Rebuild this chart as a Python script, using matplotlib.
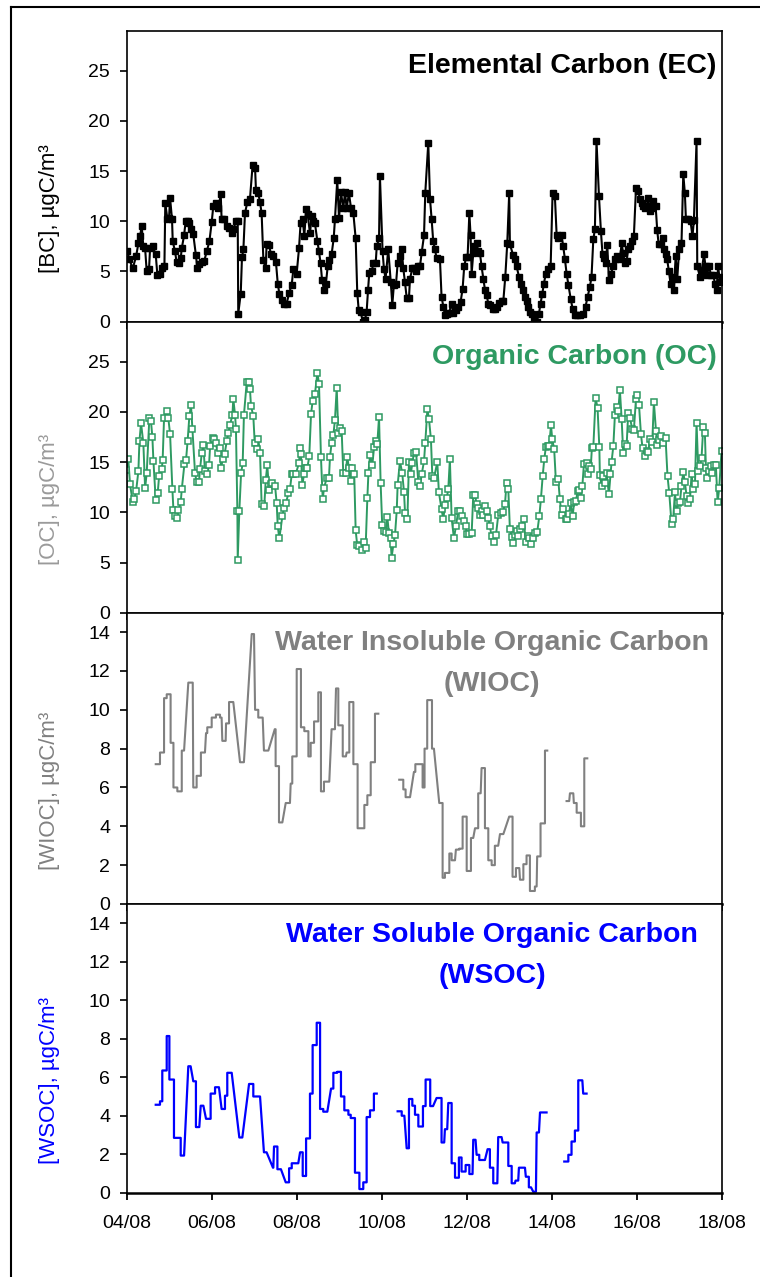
import numpy as np
import matplotlib
matplotlib.use("Agg")
import matplotlib.pyplot as plt
from matplotlib.lines import Line2D

plt.rcParams['font.family'] = ['Liberation Sans', 'DejaVu Sans']

date_labels = ["04/08", "06/08", "08/08", "10/08", "12/08", "14/08", "16/08", "18/08"]

# hours after 04/08 00:00
ec_hours = [
    0.4, 1.5, 3.4, 5.3, 6.6, 7.5, 8.5, 9.4, 10.4, 11.3,
    12.6, 13.2, 14.7, 16.4, 17.3, 18.8, 20.1, 21.3, 21.8, 23.0,
    23.9, 24.5, 25.6, 26.0, 27.3, 28.2, 29.7, 30.5, 31.1, 32.4,
    33.3, 34.4, 35.4, 36.3, 37.6, 39.1, 39.9, 41.0, 42.4, 43.7,
    45.2, 46.7, 48.0, 48.9, 50.3, 51.8, 53.1, 53.6, 55.1, 56.5,
    57.8, 59.3, 60.2, 61.7, 62.7, 63.0, 64.4, 65.1, 65.9, 66.8,
    68.1, 69.6, 71.1, 72.5, 73.0, 74.3, 75.3, 76.2, 77.2, 78.5,
    79.0, 80.4, 81.5, 82.8, 84.3, 85.3, 86.2, 87.5, 89.0, 90.3,
    91.8, 93.2, 94.1, 96.0, 97.3, 98.2, 99.4, 100.3, 101.3, 102.2,
    103.5, 104.5, 105.4, 106.3, 107.7, 108.6, 109.5, 110.3, 111.4, 112.5,
    113.5, 114.4, 115.7, 116.9, 117.6, 118.9, 119.9, 121.0, 122.3, 123.3,
    124.2, 125.5, 126.7, 128.0, 129.3, 130.2, 131.0, 132.1, 133.3, 134.6,
    135.5, 136.3, 137.0, 138.3, 139.3, 140.6, 141.2, 142.5, 143.0, 144.5,
    145.3, 146.2, 147.7, 149.1, 150.0, 150.9, 152.1, 153.0, 154.3, 155.3,
    156.2, 157.1, 158.1, 159.4, 160.0, 161.3, 162.4, 163.4, 164.3, 165.6,
    166.6, 167.9, 168.6, 170.3, 171.3, 172.2, 173.1, 174.1, 175.0, 176.9,
    177.8, 178.8, 179.7, 180.7, 182.0, 183.5, 184.4, 185.9, 187.2, 188.6,
    189.7, 190.6, 191.6, 192.5, 193.5, 194.2, 194.8, 195.7, 196.3, 197.6,
    198.5, 199.5, 200.4, 201.4, 202.3, 203.2, 204.2, 205.1, 206.6, 208.0,
    209.3, 210.4, 211.7, 212.7, 213.8, 214.9, 216.0, 216.4, 218.3, 219.2,
    220.2, 221.5, 222.6, 223.6, 224.9, 225.8, 226.8, 227.7, 229.0, 230.0,
    231.5, 232.8, 233.7, 234.7, 235.6, 236.7, 238.1, 239.4, 240.5, 241.8,
    242.8, 243.7, 245.6, 246.5, 247.5, 248.4, 249.4, 250.7, 251.8, 253.1,
    254.4, 255.9, 257.8, 259.1, 260.3, 261.6, 262.5, 263.5, 264.4, 265.3,
    266.7, 267.8, 268.7, 269.7, 270.4, 271.4, 272.3, 273.4, 274.8, 275.7,
    276.6, 277.6, 278.5, 279.5, 280.4, 281.3, 282.3, 283.2, 284.2, 285.1,
    286.4, 287.6, 288.9, 289.8, 290.8, 291.7, 292.6, 293.6, 294.5, 295.5,
    296.4, 297.3, 298.7, 299.6, 300.4, 301.5, 302.6, 303.6, 304.5, 305.2,
    306.2, 307.1, 308.3, 309.0, 310.0, 310.9, 312.0, 313.3, 314.3, 315.2,
    315.8, 317.1, 318.4, 319.5, 320.3, 321.8, 322.2, 323.7, 324.6, 326.0,
    326.9, 327.8, 328.8, 329.9, 331.2, 332.2, 333.1, 334.0, 335.0, 335.9,
]
ec_values = [
    7.0, 6.2, 5.3, 6.5, 7.8, 8.5, 9.5, 7.5, 7.3, 5.0,
    5.2, 7.3, 7.5, 6.7, 4.7, 4.8, 5.3, 5.5, 11.8, 10.2,
    10.3, 12.3, 10.2, 8.0, 7.0, 5.9, 5.8, 6.3, 7.3, 8.6,
    10.0, 10.0, 9.8, 9.2, 8.7, 6.6, 5.3, 5.7, 5.9, 6.0,
    7.0, 8.0, 9.9, 11.5, 11.8, 11.3, 12.7, 10.2, 10.2, 9.5,
    9.3, 8.8, 9.2, 10.0, 10.0, 0.8, 2.8, 6.4, 7.2, 10.8,
    11.9, 12.2, 15.6, 15.3, 13.1, 12.8, 11.9, 10.8, 6.1, 5.3,
    7.7, 7.6, 6.7, 6.5, 5.9, 3.8, 2.8, 2.2, 1.8, 1.8,
    2.9, 3.7, 5.2, 4.8, 7.3, 9.8, 10.2, 8.5, 11.2, 10.7,
    8.8, 10.5, 10.0, 9.8, 8.0, 7.0, 5.8, 4.2, 3.2, 3.8,
    5.5, 6.1, 6.7, 8.3, 10.2, 14.1, 10.3, 12.9, 11.3, 12.9,
    11.3, 12.8, 11.3, 10.8, 8.3, 2.9, 1.2, 1.0, 0.0, 0.2,
    1.0, 3.2, 4.9, 5.0, 5.8, 5.8, 7.5, 8.3, 14.5, 7.0,
    5.2, 4.3, 7.2, 4.0, 1.7, 3.7, 3.8, 5.8, 6.5, 7.2,
    5.3, 4.0, 2.4, 2.4, 4.3, 5.3, 5.3, 5.0, 5.5, 5.5,
    6.9, 8.6, 12.8, 17.8, 12.2, 10.2, 8.0, 7.2, 6.3, 6.2,
    2.5, 1.5, 0.7, 0.8, 0.9, 1.8, 0.9, 1.2, 1.5, 2.0,
    3.3, 5.5, 6.4, 6.4, 10.8, 8.6, 4.8, 6.8, 7.5, 7.8,
    7.0, 6.8, 5.5, 4.3, 3.2, 2.7, 1.8, 1.7, 1.3, 1.3,
    1.5, 1.9, 2.1, 2.1, 4.5, 7.8, 12.8, 7.7, 6.6, 6.2,
    5.5, 4.5, 3.8, 3.2, 2.5, 2.1, 1.5, 1.0, 0.8, 0.2,
    0.0, 0.8, 1.8, 2.8, 3.8, 4.8, 5.2, 5.5, 12.8, 12.5,
    8.6, 8.3, 8.6, 7.5, 6.2, 4.8, 3.7, 2.3, 1.3, 0.7,
    0.7, 0.7, 0.8, 1.5, 2.5, 3.5, 4.5, 8.2, 9.2, 18.0,
    12.5, 9.0, 6.7, 6.3, 5.8, 7.6, 4.2, 4.8, 5.5, 6.2,
    6.5, 6.4, 6.2, 7.8, 6.8, 5.8, 6.0, 7.2, 7.5, 8.0,
    8.5, 13.3, 13.0, 12.2, 11.8, 11.5, 11.3, 11.5, 12.3, 11.0,
    11.3, 12.0, 11.5, 9.1, 7.7, 7.7, 8.3, 7.2, 6.7, 6.2,
    5.0, 3.8, 4.5, 3.2, 6.5, 4.3, 7.2, 7.8, 14.7, 12.8,
    10.2, 10.2, 10.0, 8.5, 10.1, 18.0, 5.5, 4.5, 5.0, 6.7,
    5.5, 4.7, 5.5, 4.7, 4.7, 3.8, 3.2, 5.5, 4.0, 4.5,
]

oc_hours = [
    -1.9, -0.4, 0.9, 1.9, 3.4, 4.3, 5.3, 6.6, 7.2, 8.1,
    9.4, 10.4, 11.3, 12.8, 13.7, 14.5, 15.1, 16.4, 17.5, 18.3,
    19.8, 20.3, 21.1, 22.6, 23.5, 24.5, 25.8, 26.4, 27.3, 28.2,
    29.2, 30.5, 31.1, 32.6, 33.5, 34.4, 35.4, 36.3, 37.1, 38.6,
    39.5, 40.8, 41.4, 42.4, 43.3, 44.2, 45.5, 46.5, 47.1, 48.6,
    49.5, 50.3, 51.4, 52.7, 53.3, 54.2, 55.3, 56.5, 57.4, 58.3,
    59.7, 60.2, 61.2, 61.7, 62.5, 62.7, 63.6, 64.6, 65.5, 66.2,
    67.8, 69.1, 69.6, 70.2, 71.5, 72.3, 73.4, 74.3, 75.3, 76.2,
    77.7, 78.5, 79.4, 80.4, 81.3, 82.2, 83.8, 84.7, 85.3, 86.2,
    87.9, 88.8, 89.9, 91.3, 92.2, 93.2, 94.1, 95.4, 97.3, 97.9,
    98.4, 99.2, 100.1, 101.3, 102.0, 103.1, 104.1, 105.0, 106.3, 107.7,
    108.6, 109.7, 110.7, 111.4, 112.9, 114.2, 114.8, 115.7, 116.7, 117.6,
    118.6, 119.5, 120.5, 121.4, 122.3, 123.6, 124.6, 125.5, 126.5, 127.4,
    128.5, 129.3, 130.2, 131.4, 132.7, 134.2, 134.9, 135.9, 136.5, 137.4,
    138.7, 139.7, 140.6, 141.5, 142.5, 143.4, 144.3, 145.3, 146.2, 147.2,
    148.1, 149.0, 149.6, 150.6, 151.5, 152.5, 153.0, 154.3, 155.6, 156.6,
    157.2, 158.5, 159.4, 160.4, 161.3, 162.2, 163.4, 164.7, 165.6, 166.6,
    167.9, 168.6, 169.8, 170.7, 171.8, 172.6, 173.5, 175.4, 176.3, 177.8,
    178.8, 179.7, 180.7, 181.6, 182.5, 183.5, 184.8, 185.9, 187.2, 188.2,
    189.1, 190.4, 191.4, 192.3, 193.5, 194.8, 195.7, 196.7, 197.6, 198.5,
    199.5, 200.4, 201.4, 202.3, 203.2, 204.2, 205.1, 206.1, 207.4, 208.5,
    209.8, 211.1, 212.3, 213.6, 214.5, 215.5, 216.4, 217.4, 218.3, 219.2,
    220.2, 221.1, 222.1, 223.0, 224.3, 225.3, 226.4, 227.1, 228.3, 229.2,
    230.5, 231.8, 233.0, 233.9, 234.9, 235.8, 236.7, 237.7, 238.6, 239.6,
    240.3, 241.4, 242.4, 243.7, 244.6, 245.6, 246.5, 247.8, 248.8, 249.7,
    250.7, 251.8, 252.7, 253.7, 254.6, 255.6, 256.5, 257.3, 258.2, 259.7,
    260.3, 261.0, 262.0, 262.7, 263.5, 264.8, 265.9, 266.9, 267.2, 268.2,
    269.1, 270.1, 271.0, 272.3, 273.2, 273.8, 274.8, 275.7, 276.6, 277.6,
    278.5, 279.5, 280.4, 281.3, 282.3, 283.2, 284.2, 285.5, 286.4, 287.6,
    288.3, 289.3, 290.4, 291.3, 292.6, 293.6, 294.5, 295.5, 296.8, 297.7,
    298.9, 299.6, 300.7, 301.7, 303.0, 304.3, 305.4, 306.4, 307.7, 308.6,
    309.6, 310.5, 311.5, 312.4, 313.3, 314.3, 315.2, 316.2, 317.1, 318.1,
    319.0, 319.9, 320.9, 321.8, 322.8, 323.7, 324.6, 325.6, 326.5, 327.1,
    327.8, 328.8, 329.7, 330.6, 331.6, 332.7, 333.7, 334.6, 335.9,
]
oc_values = [
    17.9, 14.2, 15.3, 12.8, 11.0, 11.3, 12.1, 14.1, 17.1, 18.9,
    16.9, 12.4, 13.9, 19.4, 19.1, 17.5, 15.1, 11.2, 11.9, 13.6,
    14.3, 15.2, 19.4, 20.1, 19.4, 17.8, 12.3, 10.2, 9.6, 9.4,
    10.2, 11.0, 12.3, 14.8, 15.2, 17.1, 19.6, 20.7, 18.3, 13.9,
    13.0, 13.0, 14.3, 15.9, 16.7, 14.1, 13.8, 14.7, 16.6, 17.4,
    17.3, 16.9, 15.9, 16.4, 14.4, 15.3, 15.8, 17.1, 17.9, 18.7,
    19.7, 21.3, 19.7, 18.3, 10.1, 5.3, 10.1, 13.9, 14.9, 19.7,
    23.0, 23.0, 22.3, 20.6, 19.6, 16.9, 16.3, 17.3, 15.9, 10.8,
    10.6, 13.2, 14.7, 12.2, 12.8, 12.9, 12.6, 10.9, 8.6, 7.4,
    9.6, 10.4, 10.9, 11.9, 12.3, 13.8, 13.8, 13.8, 14.9, 16.4,
    15.8, 12.7, 13.8, 14.4, 14.4, 15.6, 19.8, 21.1, 21.8, 23.9,
    22.8, 15.5, 11.3, 12.4, 13.4, 13.4, 15.5, 16.9, 17.7, 19.2,
    22.4, 17.9, 18.4, 18.1, 13.9, 13.9, 15.5, 14.4, 13.1, 14.4,
    13.8, 8.2, 6.7, 6.6, 6.2, 7.0, 6.4, 11.4, 13.9, 15.7,
    14.7, 16.5, 17.1, 16.8, 19.5, 12.9, 8.7, 8.1, 8.0, 9.5,
    7.9, 7.4, 5.5, 6.8, 7.7, 10.2, 12.7, 15.1, 13.9, 12.0,
    9.9, 9.3, 15.0, 13.8, 14.9, 15.9, 16.0, 13.0, 12.6, 13.8,
    15.1, 16.9, 20.3, 19.3, 17.3, 13.6, 13.4, 15.0, 12.0, 10.3,
    9.3, 10.7, 11.4, 12.3, 15.3, 9.4, 7.4, 8.6, 10.1, 10.1,
    9.6, 9.1, 8.6, 7.8, 7.8, 7.9, 11.7, 11.7, 10.8, 10.4,
    9.7, 10.1, 9.7, 10.6, 10.1, 9.4, 8.6, 7.6, 7.0, 7.7,
    9.7, 9.9, 10.0, 10.8, 12.9, 12.3, 8.3, 7.5, 6.9, 7.7,
    8.1, 7.6, 8.3, 8.6, 9.3, 7.0, 7.6, 7.4, 6.8, 7.4,
    7.9, 8.0, 9.6, 11.3, 13.6, 15.3, 16.5, 16.6, 16.6, 18.7,
    17.3, 16.3, 13.0, 13.3, 11.3, 9.7, 10.3, 9.3, 9.3, 9.8,
    10.9, 9.6, 11.0, 11.1, 12.1, 12.2, 11.4, 12.6, 14.8, 14.9,
    13.8, 14.6, 14.3, 16.4, 16.5, 21.4, 20.4, 16.5, 13.7, 12.6,
    13.6, 12.9, 13.9, 11.8, 13.8, 15.0, 16.6, 19.7, 20.5, 20.1,
    22.2, 19.3, 15.9, 16.8, 16.6, 19.9, 19.4, 18.3, 18.2, 21.3,
    21.7, 20.7, 17.8, 16.4, 15.6, 16.1, 16.0, 17.3, 17.0, 21.0,
    18.1, 16.7, 17.2, 17.6, 16.9, 17.4, 13.6, 11.9, 8.8, 9.3,
    12.0, 10.1, 10.9, 11.0, 12.6, 14.0, 13.0, 11.6, 10.9, 11.3,
    13.8, 12.3, 12.8, 18.9, 14.1, 14.6, 15.4, 18.5, 17.9, 14.4,
    13.4, 14.1, 14.6, 13.9, 14.7, 14.7, 11.0, 12.4, 16.1,
]

# filter samples: start hour, end hour, concentration
wioc_start = [
    16.4, 18.8, 21.1, 22.6, 24.8, 26.4, 28.6, 31.1, 34.8, 37.6,
    39.5, 41.9, 44.8, 45.5, 48.0, 50.4, 52.7, 54.0, 56.1, 57.8,
    64.0, 70.6, 72.5, 74.3, 77.5, 83.6, 84.1, 86.0, 89.8, 92.6,
    93.5, 96.0, 98.4, 100.3, 102.6, 103.9, 105.8, 108.2, 109.7, 111.4,
    115.7, 118.2, 119.5, 122.0, 124.2, 125.7, 128.0, 130.4, 134.2, 135.9,
    137.8, 140.2,
    153.9, 156.2, 157.5, 162.2, 163.0, 167.1, 168.2, 169.7, 172.4, 176.5,
    178.4, 179.7, 182.2, 183.5, 185.9, 187.8, 189.7, 192.0, 194.4, 196.7,
    198.5, 200.4, 202.3, 204.2, 206.1, 207.9, 210.8, 216.0, 217.9, 219.8,
    222.1, 224.0, 225.8, 227.7, 230.5, 231.8, 233.7, 236.2,
    248.4, 250.3, 252.5, 254.1, 256.5, 258.4,
]
wioc_end = [
    18.8, 21.1, 22.6, 24.8, 26.4, 28.6, 31.1, 32.4, 37.3, 39.5,
    41.9, 44.2, 45.5, 48.0, 50.4, 52.7, 53.6, 55.9, 57.8, 60.2,
    66.2, 71.9, 74.3, 76.8, 80.0, 84.1, 86.0, 87.9, 92.2, 93.5,
    96.0, 98.4, 100.3, 102.6, 103.9, 105.8, 108.2, 109.7, 111.4, 114.4,
    117.6, 119.5, 122.0, 123.8, 125.7, 128.0, 130.4, 134.2, 135.9, 137.8,
    140.2, 142.1,
    156.2, 157.5, 160.0, 163.0, 167.1, 168.2, 169.7, 172.4, 173.5, 178.4,
    179.7, 182.2, 183.5, 185.4, 187.8, 189.7, 192.0, 194.4, 195.7, 198.5,
    199.9, 202.3, 204.2, 206.1, 207.9, 209.8, 212.7, 217.9, 219.8, 221.7,
    224.0, 225.8, 227.7, 230.5, 231.5, 233.7, 236.2, 237.5,
    249.9, 252.2, 254.1, 256.5, 258.4, 260.1,
]
wioc_values = [
    7.2, 7.8, 10.6, 10.8, 8.3, 6.0, 5.8, 7.9, 11.4, 6.0,
    6.6, 7.8, 8.8, 9.1, 9.6, 9.75, 9.6, 8.4, 9.3, 10.4,
    7.3, 13.9, 10.0, 9.6, 7.9, 9.0, 7.1, 4.2, 5.2, 6.2,
    7.6, 12.1, 9.1, 8.9, 7.6, 8.3, 9.4, 10.9, 5.8, 6.3,
    9.0, 11.1, 9.2, 7.6, 7.8, 10.4, 7.2, 3.9, 5.1, 5.6,
    7.3, 9.8,
    6.4, 5.9, 5.5, 6.8, 7.2, 6.0, 8.0, 10.5, 8.0, 5.2,
    1.35, 1.6, 2.6, 2.25, 2.8, 2.85, 4.5, 1.7, 3.4, 3.9,
    5.7, 7.0, 3.9, 2.25, 2.0, 3.0, 3.6, 4.5, 1.4, 1.85,
    1.25, 2.05, 2.5, 0.67, 0.9, 2.45, 4.15, 7.9,
    5.3, 5.7, 5.2, 4.7, 4.0, 7.5,
]

wsoc_start = [
    16.4, 18.8, 20.1, 22.6, 24.1, 26.7, 30.5, 34.8, 37.6, 39.1,
    41.8, 44.8, 47.4, 49.9, 53.6, 55.5, 56.8, 63.6, 69.1, 71.5,
    77.5, 82.6, 83.2, 85.1, 89.8, 91.7, 93.2, 97.9, 99.4, 101.3,
    103.5, 105.0, 107.3, 109.2, 111.0, 115.4, 116.7, 118.9, 121.0, 122.9,
    125.2, 126.5, 128.9, 131.4, 133.6, 135.5, 137.4, 139.6,
    153.0, 155.3, 158.1, 159.4, 161.3, 162.8, 164.7, 167.3, 168.8, 171.4,
    175.0, 177.8, 179.7, 181.6, 183.5, 185.4, 187.6, 189.1, 191.4, 193.5,
    195.7, 197.6, 199.1, 203.8, 205.1, 207.0, 209.8, 212.3, 215.5, 217.4,
    219.6, 221.5, 225.4, 227.1, 229.6, 231.5, 233.4,
    247.1, 249.4, 251.2, 253.1, 255.0, 257.8,
]
wsoc_end = [
    18.8, 20.1, 22.6, 24.1, 26.7, 30.5, 32.4, 36.1, 39.1, 41.0,
    43.3, 47.4, 49.9, 52.1, 55.5, 56.8, 59.3, 65.3, 71.5, 75.3,
    79.0, 82.8, 85.1, 87.1, 91.7, 93.2, 96.9, 99.4, 101.3, 103.5,
    105.0, 107.3, 109.2, 111.0, 113.3, 116.7, 118.9, 121.0, 122.9, 125.2,
    126.5, 128.9, 131.4, 133.6, 135.5, 137.4, 139.6, 141.2,
    155.3, 156.8, 159.4, 161.3, 162.8, 164.7, 167.3, 168.8, 171.4, 173.0,
    177.8, 179.3, 181.0, 183.5, 185.4, 187.6, 189.1, 191.4, 193.5, 195.3,
    197.0, 199.1, 202.3, 205.1, 207.0, 209.3, 211.7, 215.5, 217.4, 219.2,
    221.1, 224.9, 227.1, 228.3, 231.1, 232.8, 237.1,
    249.4, 251.2, 253.1, 255.0, 257.3, 259.7,
]
wsoc_values = [
    4.57, 4.75, 6.35, 8.14, 5.88, 2.85, 1.93, 6.57, 5.79, 3.41,
    4.52, 3.84, 5.15, 5.48, 4.35, 5.04, 6.23, 2.87, 5.65, 5.0,
    2.10, 1.30, 2.40, 1.22, 0.54, 1.27, 1.53, 2.10, 0.87, 2.82,
    5.15, 7.67, 8.83, 4.35, 4.21, 5.41, 6.23, 6.28, 5.0, 4.28,
    4.05, 3.88, 1.04, 0.19, 0.54, 3.93, 4.28, 5.15,
    4.23, 4.0, 2.31, 4.87, 4.52, 4.05, 3.44, 4.50, 5.88, 4.50,
    4.92, 2.61, 3.30, 4.66, 1.53, 0.78, 1.83, 1.10, 1.44, 0.97,
    2.75, 1.97, 1.70, 2.26, 1.30, 0.49, 2.89, 2.61, 1.39, 0.49,
    0.63, 1.30, 0.83, 0.28, 0.05, 3.13, 4.17,
    1.62, 1.97, 2.66, 3.23, 5.84, 5.15,
]

assert len(ec_hours) == len(ec_values)
assert len(oc_hours) == len(oc_values)
assert len(wioc_start) == len(wioc_end) == len(wioc_values)
assert len(wsoc_start) == len(wsoc_end) == len(wsoc_values)


def sample_line(start, end, vals, gap=8.0):
    # each filter sample is a flat segment; a long gap breaks the line
    xs, ys = [], []
    for i in range(len(vals)):
        if i > 0 and start[i] - end[i - 1] > gap:
            xs.append(np.nan)
            ys.append(np.nan)
        xs += [start[i], end[i]]
        ys += [vals[i], vals[i]]
    return np.array(xs) / 24.0, np.array(ys)


green = '#2e9a62'
fig = plt.figure(figsize=(7.6, 12.77), dpi=100)

left, width = 0.1667, 0.7829
ax_ec = fig.add_axes([left, 0.7481, width, 0.2279])
ax_oc = fig.add_axes([left, 0.5202, width, 0.2279])
ax_wi = fig.add_axes([left, 0.2921, width, 0.2281])
ax_ws = fig.add_axes([left, 0.0660, width, 0.2261])
axes = [ax_ec, ax_oc, ax_wi, ax_ws]

ax_ec.plot(np.array(ec_hours) / 24.0, ec_values, color='black', lw=1.5,
           marker='s', ms=3.8, mfc='black', mec='black')
ax_oc.plot(np.array(oc_hours) / 24.0, oc_values, color=green, lw=1.4,
           marker='s', ms=3.8, mfc='white', mec=green, mew=1.1)
x, y = sample_line(wioc_start, wioc_end, wioc_values)
ax_wi.plot(x, y, color='#808080', lw=1.5)
x, y = sample_line(wsoc_start, wsoc_end, wsoc_values)
ax_ws.plot(x, y, color='#0000ff', lw=1.6)

ylabels = ['[BC], µgC/m³', '[OC], µgC/m³', '[WIOC], µgC/m³', '[WSOC], µgC/m³']
lcolors = ['black', '#9a9a9a', '#808080', '#0000ff']
ylims = [29, 29, 15, 15]
ysteps = [5, 5, 2, 2]
ymax_tick = [25, 25, 14, 14]

for i, ax in enumerate(axes):
    ax.set_xlim(0, 14)
    ax.set_ylim(0, ylims[i])
    ax.set_yticks(np.arange(0, ymax_tick[i] + 0.1, ysteps[i]))
    ax.set_xticks(np.arange(0, 15, 2))
    ax.set_xticklabels(date_labels)
    ax.tick_params(axis='y', direction='out', length=5, width=1.2, pad=7, labelsize=14)
    ax.tick_params(axis='x', direction='out', length=5, width=1.3, pad=11, labelsize=14,
                   labelbottom=(i == 3))
    for s in ['left', 'right', 'top']:
        ax.spines[s].set_linewidth(1.2)
    ax.spines['bottom'].set_linewidth(1.8)
    ax.set_ylabel(ylabels[i], color=lcolors[i], fontsize=16)
    ax.yaxis.set_label_coords(-0.112, 0.39)

ax_ec.text(0.9916, 0.879, 'Elemental Carbon (EC)', transform=ax_ec.transAxes,
           ha='right', va='center', fontsize=20.5, fontweight='bold', color='black')
ax_oc.text(0.9916, 0.879, 'Organic Carbon (OC)', transform=ax_oc.transAxes,
           ha='right', va='center', fontsize=20.5, fontweight='bold', color=green)
ax_wi.text(0.614, 0.824, 'Water Insoluble Organic Carbon\n(WIOC)', transform=ax_wi.transAxes,
           ha='center', va='center', fontsize=20.5, fontweight='bold', color='#808080',
           multialignment='center', linespacing=1.75)
ax_ws.text(0.614, 0.822, 'Water Soluble Organic Carbon\n(WSOC)', transform=ax_ws.transAxes,
           ha='center', va='center', fontsize=20.5, fontweight='bold', color='#0000ff',
           multialignment='center', linespacing=1.75)

# outer frame (left and top edges visible)
fx, fy = 10.5 / 760, 1 - 6.5 / 1277
fig.add_artist(Line2D([fx, fx], [0, fy], transform=fig.transFigure, color='black', lw=1.5))
fig.add_artist(Line2D([fx, 1], [fy, fy], transform=fig.transFigure, color='black', lw=1.5))

fig.savefig('out.png', dpi=100)
